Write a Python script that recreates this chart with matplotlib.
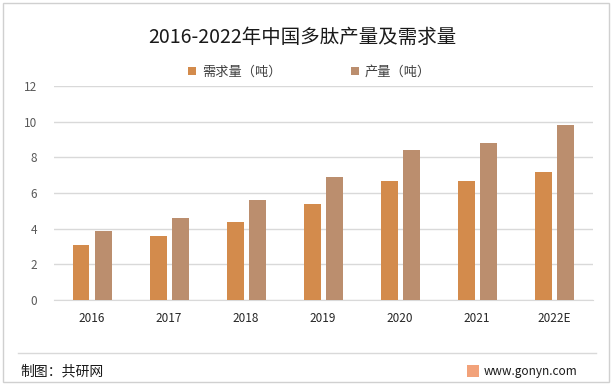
import numpy as np
import matplotlib
matplotlib.use("Agg")
import matplotlib.pyplot as plt
from matplotlib.patches import Rectangle

plt.rcParams['font.family'] = ['Noto Sans CJK SC', 'DejaVu Sans']

years = ['2016', '2017', '2018', '2019', '2020', '2021', '2022E']
demand = [3.08, 3.59, 4.37, 5.38, 6.67, 6.67, 7.17]
output = [3.87, 4.59, 5.60, 6.89, 8.40, 8.80, 9.80]
labels = ['需求量（吨）', '产量（吨）']

c_demand = '#D38B4C'
c_output = '#BB8E6E'

fig = plt.figure(figsize=(6.13, 3.85), dpi=100)
ax = fig.add_axes([0.0873, 0.2208, 0.8797, 0.5558])

x = np.arange(len(years))
w = 0.22
ax.bar(x - 0.143, demand, w, color=c_demand, label=labels[0], zorder=3)
ax.bar(x + 0.143, output, w, color=c_output, label=labels[1], zorder=3)

ax.set_xlim(-0.5, len(years) - 0.5)
ax.set_ylim(0, 12)
ax.set_yticks(range(0, 13, 2))
ax.set_xticks(x)
ax.set_xticklabels(years, fontsize=8.5, color='#262626')
ax.tick_params(axis='y', labelsize=8.5, colors='#595959', length=0, pad=12)
ax.tick_params(axis='x', length=0, pad=9)
ax.grid(axis='y', color='#D9D9D9', linewidth=1, zorder=0)
for s in ['top', 'right', 'left']:
    ax.spines[s].set_visible(False)
ax.spines['bottom'].set_color('#D9D9D9')

fig.text(0.493, 0.903, '2016-2022年中国多肽产量及需求量', ha='center', va='center',
         fontsize=14, color='#1a1a1a')

leg = fig.legend(loc='center', bbox_to_anchor=(0.505, 0.812), ncol=2, frameon=False,
                 fontsize=9.5, handlelength=0.6, handleheight=0.6, handletextpad=0.45,
                 columnspacing=5.3)
for t in leg.get_texts():
    t.set_color('#404040')

# outer border and footer separator
fig.patches.append(Rectangle((0.005, 0.008), 0.988, 0.984, transform=fig.transFigure,
                             fill=False, edgecolor='#D0D0D0', linewidth=1))
fig.add_artist(plt.Line2D([0.03, 0.972], [0.084, 0.084], transform=fig.transFigure,
                          color='#D9D9D9', linewidth=1))
fig.text(0.033, 0.035, '制图：共研网', fontsize=10, va='center', color='#1a1a1a')
fig.patches.append(Rectangle((0.762, 0.022), 0.02, 0.03, transform=fig.transFigure,
                             facecolor='#F2A27A', edgecolor='none'))
fig.text(0.942, 0.035, 'www.gonyn.com', fontsize=8.5, va='center', ha='right', color='#1a1a1a')

fig.savefig('out.png', dpi=100)
